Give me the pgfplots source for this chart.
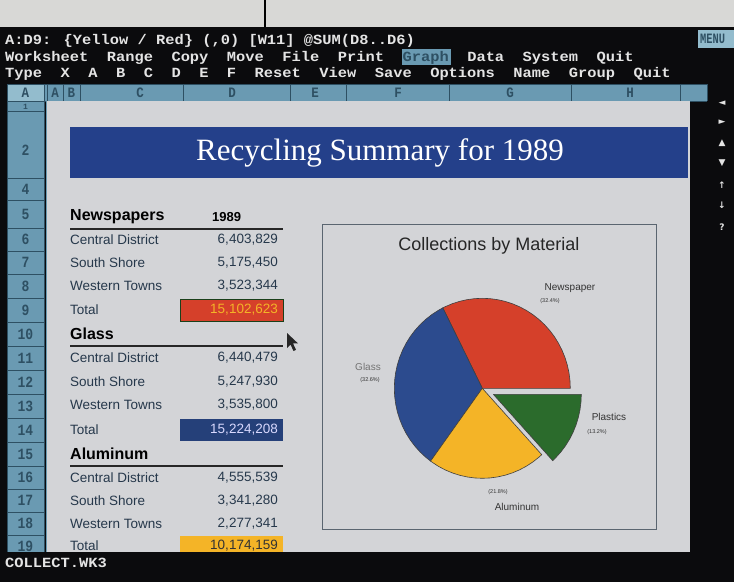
\documentclass[border=0pt]{standalone}
\usepackage{pgfplots}
\pgfplotsset{compat=1.18}
\usepackage{graphicx}
\usepackage{fontspec}
\setmainfont{Liberation Sans}
\newfontfamily\monof{Liberation Mono}
\newfontfamily\seriff{Liberation Serif}
\newfontfamily\symf{DejaVu Sans}
\definecolor{scr}{HTML}{0B0B0D}
\definecolor{paper}{HTML}{D8D8D6}
\definecolor{term}{HTML}{E4E4E4}
\definecolor{steel}{HTML}{6A9AB2}
\definecolor{steelhi}{HTML}{93BCCD}
\definecolor{steeldk}{HTML}{2E5063}
\definecolor{sheet}{HTML}{D3D4D7}
\definecolor{banner}{HTML}{24408A}
\definecolor{tabtxt}{HTML}{26384B}
\definecolor{pred}{HTML}{D5402A}
\definecolor{pblue}{HTML}{2C4B8E}
\definecolor{pyel}{HTML}{F4B427}
\definecolor{pgreen}{HTML}{2B6B2C}
\definecolor{boxln}{HTML}{5A6570}
\newcommand{\mt}[1]{\scalebox{1.1}[1]{\fontsize{14}{14}\monof\bfseries #1}}
\begin{document}
\begin{tikzpicture}[x=1pt,y=1pt]
\useasboundingbox (0,0) rectangle (734,582);
\clip (0,0) rectangle (734,582);
% background
\fill[paper] (0,555) rectangle (734,582);
\draw[black, line width=1.5pt] (265,555) -- (265,582);
\fill[scr] (0,0) rectangle (734,555);
% terminal lines
\node[anchor=west, text=term, inner sep=0] at (5,541) {\mt{A:D9: \{Yellow / Red\} (,0) [W11] @SUM(D8..D6)}};
\fill[steel] (402,517) rectangle (451,533);
\node[anchor=west, text=term, inner sep=0] at (5,524.5) {\mt{Worksheet~~Range~~Copy~~Move~~File~~Print~~\textcolor{steeldk}{Graph}~~Data~~System~~Quit}};
\node[anchor=west, text=term, inner sep=0] at (5,508) {\mt{Type~~X~~A~~B~~C~~D~~E~~F~~Reset~~View~~Save~~Options~~Name~~Group~~Quit}};
\fill[steelhi] (698,534) rectangle (734,552);
\node[anchor=west, text=steeldk, inner sep=0] at (700,543) {\scalebox{0.8}[1.1]{\fontsize{13}{14}\monof\bfseries MENU}};
% column header row
\fill[steel] (7,481) rectangle (707,498);
\fill[steelhi] (7,481) rectangle (44,498);
\foreach \xx in {7,44,47,63,80,183,290,346,449,571,680,707} \draw[steeldk, line width=0.8pt] (\xx,481) -- (\xx,498);
\draw[steeldk, line width=0.8pt] (7,481) -- (707,481) (7,498) -- (707,498);
\foreach \lab/\xx in {A/25.5,A/55,B/71.5,C/140,D/232,E/315,F/398,G/510,H/630}
  \node[text=steeldk, inner sep=0] at (\xx,489.5) {\scalebox{1}[1.15]{\fontsize{12.5}{13}\monof\bfseries \lab}};
% right arrows
\foreach \s/\yy in {◄/479,►/460,▲/439,▼/419,↑/397,↓/377,?/355}
  \node[text=term, inner sep=0] at (722,\yy) {\fontsize{9}{10}\symf\bfseries \s};
% sheet area
\fill[sheet] (47,30) rectangle (690,481);
\draw[steel, line width=1pt] (46.5,30) -- (46.5,481);
% row header column
\fill[steel] (7,30) rectangle (44,481);
\foreach \yy in {24,47,70,93,116,140,164,188,212,236,260,284,308,331,354,382,404,471,481}
  \draw[steeldk, line width=0.8pt] (7,\yy) -- (44,\yy);
\draw[steeldk, line width=0.8pt] (7,30) -- (7,481) (44,30) -- (44,481);
\node[text=steeldk, inner sep=0] at (25.5,475.5) {\fontsize{8}{8}\monof\bfseries 1};
\foreach \lab/\yy in {2/432,4/393,5/368,6/342.5,7/319.5,8/296,9/272,10/248,11/224,12/200,13/176,14/152,15/128,16/104.5,17/81.5,18/58.5,19/35.5}
  \node[text=steeldk, inner sep=0] at (25.5,\yy) {\scalebox{1}[1.2]{\fontsize{13}{14}\monof\bfseries \lab}};
% banner
\fill[banner] (70,404) rectangle (688,455);
\node[text=white, inner sep=0] at (380,429) {\fontsize{31}{33}\seriff Recycling Summary for 1989};
% table
\begin{scope}[every node/.style={inner sep=0, text=tabtxt, font=\fontsize{13.5}{14}\selectfont}]
\node[anchor=west, text=black, font=\fontsize{16}{17}\selectfont\bfseries] at (70,365) {Newspapers};
\node[anchor=west, text=black, font=\fontsize{13}{14}\selectfont\bfseries] at (212,365) {1989};
\draw[black!85, line width=1.4pt] (70,353) -- (283,353);
\node[anchor=west] at (70,342) {Central District};
\node[anchor=east] at (278,342) {6,403,829};
\node[anchor=west] at (70,319) {South Shore};
\node[anchor=east] at (278,319) {5,175,450};
\node[anchor=west] at (70,296) {Western Towns};
\node[anchor=east] at (278,296) {3,523,344};
\node[anchor=west] at (70,272) {Total};
\fill[pred, draw=pgreen!60!black, line width=0.8pt] (180,261) rectangle (283,283);
\node[anchor=east, text=pyel] at (278,272) {15,102,623};
\node[anchor=west, text=black, font=\fontsize{16}{17}\selectfont\bfseries] at (70,248) {Glass};
\draw[black!85, line width=1.4pt] (70,236) -- (283,236);
\node[anchor=west] at (70,224) {Central District};
\node[anchor=east] at (278,224) {6,440,479};
\node[anchor=west] at (70,200) {South Shore};
\node[anchor=east] at (278,200) {5,247,930};
\node[anchor=west] at (70,177) {Western Towns};
\node[anchor=east] at (278,177) {3,535,800};
\node[anchor=west] at (70,152) {Total};
\fill[pblue!85!black] (180,141) rectangle (283,163);
\node[anchor=east, text=blue!15!white] at (278,152) {15,224,208};
\node[anchor=west, text=black, font=\fontsize{16}{17}\selectfont\bfseries] at (70,128) {Aluminum};
\draw[black!85, line width=1.4pt] (70,116) -- (283,116);
\node[anchor=west] at (70,104) {Central District};
\node[anchor=east] at (278,104) {4,555,539};
\node[anchor=west] at (70,81) {South Shore};
\node[anchor=east] at (278,81) {3,341,280};
\node[anchor=west] at (70,58) {Western Towns};
\node[anchor=east] at (278,58) {2,277,341};
\node[anchor=west] at (70,36) {Total};
\fill[pyel] (180,30) rectangle (283,46);
\node[anchor=east, text=black!80] at (278,36) {10,174,159};
\end{scope}
% mouse pointer
\fill[black!85] (287,249) -- (287,234) -- (290.5,237.5) -- (293.5,231) -- (296,232.2) -- (293,238.6) -- (298,238.6) -- cycle;
% bottom bar
\fill[scr] (0,0) rectangle (734,30);
\node[anchor=west, text=term, inner sep=0] at (5,19) {\mt{COLLECT.WK3}};
% chart box
\draw[boxln, line width=0.9pt] (322,53) rectangle (656,358);
\node[inner sep=0, text=black!85] at (489,336) {\fontsize{18}{19}\selectfont Collections by Material};
% pie
\begin{axis}[at={(482.3pt,193.7pt)}, anchor=center, scale only axis,
  width=176pt, height=180pt, xmin=-1, xmax=1, ymin=-1, ymax=1,
  hide axis, clip=false]
\addplot[fill=pred, draw=black!75, line width=0.6pt, data cs=polar] coordinates {
 (0,0) (0,1) (5,1) (10,1) (15,1) (20,1) (25,1) (30,1) (35,1) (40,1) (45,1) (50,1) (55,1) (60,1) (65,1) (70,1) (75,1) (80,1) (85,1) (90,1) (95,1) (100,1) (105,1) (110,1) (115,1) (116.64,1) (0,0)};
\addplot[fill=pblue, draw=black!75, line width=0.6pt, data cs=polar] coordinates {
 (0,0) (116.64,1) (120,1) (125,1) (130,1) (135,1) (140,1) (145,1) (150,1) (155,1) (160,1) (165,1) (170,1) (175,1) (180,1) (185,1) (190,1) (195,1) (200,1) (205,1) (210,1) (215,1) (220,1) (225,1) (230,1) (234,1) (0,0)};
\addplot[fill=pyel, draw=black!75, line width=0.6pt, data cs=polar] coordinates {
 (0,0) (234,1) (235,1) (240,1) (245,1) (250,1) (255,1) (260,1) (265,1) (270,1) (275,1) (280,1) (285,1) (290,1) (295,1) (300,1) (305,1) (310,1) (312.48,1) (0,0)};
\addplot[fill=pgreen, draw=black!75, line width=0.6pt, data cs=polar, xshift=11pt, yshift=-6pt] coordinates {
 (0,0) (312.48,1) (315,1) (320,1) (325,1) (330,1) (335,1) (340,1) (345,1) (350,1) (355,1) (360,1) (0,0)};
\end{axis}
% pie labels
\begin{scope}[every node/.style={inner sep=0, text=black!80}]
\node at (570,294) {\fontsize{10}{11}\selectfont Newspaper};
\node at (550,281) {\fontsize{5.5}{6}\selectfont (32.4\%)};
\node[text=black!55] at (368,215) {\fontsize{10}{11}\selectfont Glass};
\node at (370,202) {\fontsize{5.5}{6}\selectfont (32.6\%)};
\node at (609,165) {\fontsize{10}{11}\selectfont Plastics};
\node at (597,150) {\fontsize{5.5}{6}\selectfont (13.2\%)};
\node at (498,90) {\fontsize{5.5}{6}\selectfont (21.8\%)};
\node at (517,75) {\fontsize{10}{11}\selectfont Aluminum};
\end{scope}
\end{tikzpicture}
\end{document}
